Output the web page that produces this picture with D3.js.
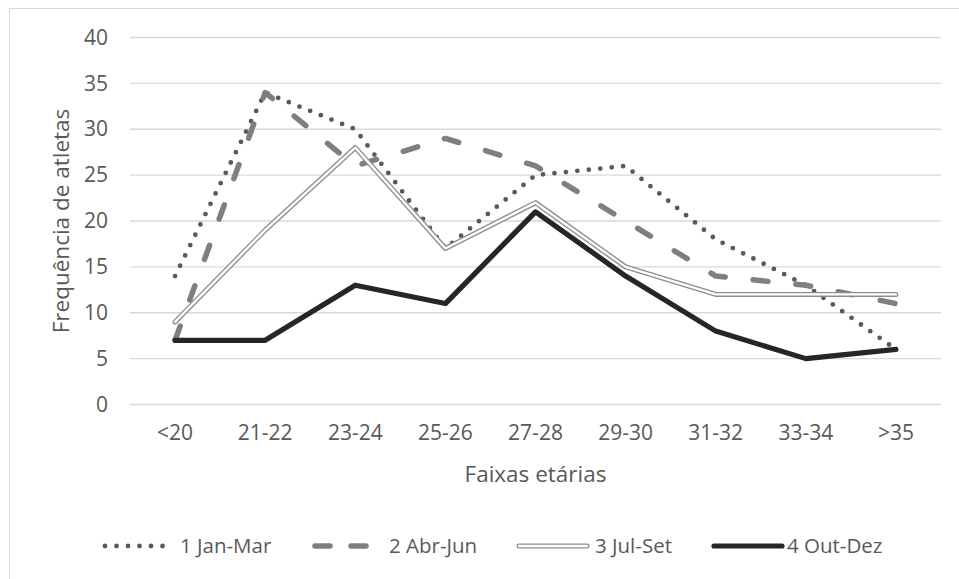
<!DOCTYPE html>
<html>
<head>
<meta charset="utf-8">
<script src="https://cdn.jsdelivr.net/npm/d3@7"></script>
<style>
  html, body { margin: 0; padding: 0; background: #fff; }
  svg { display: block; }
  text { font-family: "Open Sans", "Noto Sans", sans-serif; fill: #595959; }
</style>
</head>
<body>
<script>
// Age brackets and quarterly athlete counts
const categories = ["<20", "21-22", "23-24", "25-26", "27-28", "29-30", "31-32", "33-34", ">35"];
const seriesNames = ["1 Jan-Mar", "2 Abr-Jun", "3 Jul-Set", "4 Out-Dez"];
const janMar = [14, 34, 30, 17, 25, 26, 18, 13, 6];
const abrJun = [7, 34, 26, 29, 26, 20, 14, 13, 11];
const julSet = [9, 19, 28, 17, 22, 15, 12, 12, 12];
const outDez = [7, 7, 13, 11, 21, 14, 8, 5, 6];
const yTicks = [0, 5, 10, 15, 20, 25, 30, 35, 40];
const yTitle = "Frequência de atletas";
const xTitle = "Faixas etárias";

const W = 959, H = 579;
const plot = { left: 130, right: 941, top: 37.5, bottom: 404.5 };

const svg = d3.select("body").append("svg").attr("width", W).attr("height", H);

// chart frame
svg.append("rect").attr("x", 9.5).attr("y", 8.5).attr("width", W + 10).attr("height", H + 10)
  .attr("fill", "#fff").attr("stroke", "#d9d9d9").attr("stroke-width", 1);

const x = d3.scaleBand().domain(categories).range([plot.left, plot.right]);
const y = d3.scaleLinear().domain([0, 40]).range([plot.bottom, plot.top]);

// gridlines
svg.append("g").selectAll("line").data(yTicks).join("line")
  .attr("x1", plot.left).attr("x2", plot.right)
  .attr("y1", d => y(d)).attr("y2", d => y(d))
  .attr("stroke", "#d9d9d9").attr("stroke-width", 1.3);

// y axis labels
const yAxis = svg.append("g").attr("transform", `translate(${plot.left},0)`)
  .call(d3.axisLeft(y).tickValues(yTicks).tickSize(0).tickPadding(22));
yAxis.select(".domain").remove();
yAxis.selectAll("text").style("font-size", "21px").attr("fill", "#595959")
  .style("font-family", "\"Open Sans\", sans-serif");

// x axis labels
const xAxis = svg.append("g").attr("transform", `translate(0,${plot.bottom})`)
  .call(d3.axisBottom(x).tickSize(0).tickPadding(21));
xAxis.select(".domain").remove();
xAxis.selectAll("text").style("font-size", "21px").attr("fill", "#595959")
  .style("font-family", "\"Open Sans\", sans-serif");

// axis titles
svg.append("text").attr("x", (plot.left + plot.right) / 2).attr("y", 482)
  .attr("text-anchor", "middle").style("font-size", "22.5px").text(xTitle);
svg.append("text").attr("transform", `translate(69,${(plot.top + plot.bottom) / 2}) rotate(-90)`)
  .attr("text-anchor", "middle").style("font-size", "22.5px").text(yTitle);

const line = d3.line().x((d, i) => x(categories[i]) + x.bandwidth() / 2).y(d => y(d));

// series styles
const styles = [
  { data: janMar, layers: [{ stroke: "#595959", width: 4.8, dash: "0 11.5", cap: "round" }] },
  { data: abrJun, layers: [{ stroke: "#7f7f7f", width: 5.5, dash: "15 28", cap: "round" }] },
  { data: julSet, layers: [{ stroke: "#8c8c8c", width: 5, cap: "round" }, { stroke: "#fff", width: 2.4, cap: "round" }] },
  { data: outDez, layers: [{ stroke: "#262626", width: 5.2, cap: "round" }] }
];

styles.forEach(s => {
  s.layers.forEach(l => {
    svg.append("path").datum(s.data).attr("d", line)
      .attr("fill", "none").attr("stroke", l.stroke).attr("stroke-width", l.width)
      .attr("stroke-dasharray", l.dash || null).attr("stroke-linecap", l.cap)
      .attr("stroke-linejoin", "round");
  });
});

// legend
const legendY = 546;
const legendItems = [
  { x0: 105, x1: 168, tx: 180 },
  { x0: 315, x1: 376, tx: 389, dash: "15 21" },
  { x0: 519, x1: 587, tx: 595 },
  { x0: 714, x1: 782, tx: 787 }
];
legendItems.forEach((it, i) => {
  const st = styles[i];
  st.layers.forEach(l => {
    svg.append("line").attr("x1", it.x0).attr("x2", it.x1).attr("y1", legendY).attr("y2", legendY)
      .attr("stroke", l.stroke).attr("stroke-width", l.width)
      .attr("stroke-dasharray", it.dash || l.dash || null).attr("stroke-linecap", l.cap);
  });
  svg.append("text").attr("x", it.tx).attr("y", legendY).attr("dy", "0.35em")
    .style("font-size", "20.5px").text(seriesNames[i]);
});
</script>
</body>
</html>
